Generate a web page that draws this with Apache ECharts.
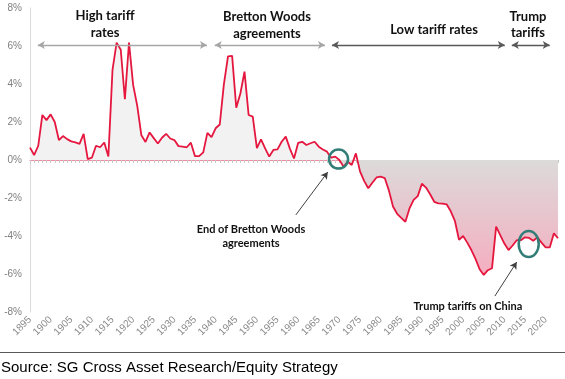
<!DOCTYPE html>
<html>
<head>
<meta charset="utf-8">
<script src="https://cdn.jsdelivr.net/npm/echarts@6/dist/echarts.min.js"></script>
<style>
  html, body { margin: 0; padding: 0; background: #fff; }
  #chart { width: 565px; height: 379px; }
</style>
</head>
<body>
<div id="chart"></div>
<script>
// ---- data ----
const startYear = 1895;
const endYear = 2023;
const values = [
  // 1895-1904
  0.65, 0.26, 0.75, 2.37, 2.1, 2.4, 2.0, 1.05, 1.26, 1.1,
  // 1905-1914
  0.98, 0.93, 0.85, 1.37, 0.05, 0.12, 0.75, 0.67, 0.92, 0.18,
  // 1915-1924
  4.74, 6.18, 5.8, 3.2, 6.18, 3.95, 2.85, 1.3, 0.95, 1.45,
  // 1925-1934
  1.15, 0.87, 1.17, 1.38, 1.13, 1.05, 0.73, 0.7, 0.67, 0.91,
  // 1935-1944
  0.2, 0.2, 0.4, 1.43, 1.2, 1.67, 1.87, 3.98, 5.45, 5.48,
  // 1945-1954
  2.75, 3.5, 4.65, 2.37, 2.28, 0.62, 1.09, 0.61, 0.18, 0.53,
  // 1955-1964
  0.56, 0.96, 1.23, 0.6, 0.08, 0.9, 0.96, 0.79, 0.88, 0.96,
  // 1965-1974
  0.7, 0.55, 0.44, 0.12, 0.18, 0.0, -0.35, -0.09, -0.26, 0.35,
  // 1975-1984
  -0.6, -1.1, -1.49, -1.2, -0.92, -0.88, -0.95, -1.6, -2.45, -2.83,
  // 1985-1994
  -3.05, -3.25, -2.55, -2.1, -1.9, -1.25, -1.45, -1.8, -2.2, -2.28,
  // 1995-2004
  -2.3, -2.33, -2.7, -3.2, -4.2, -4.0, -4.35, -4.74, -5.2, -5.75,
  // 2005-2014
  -6.05, -5.8, -5.7, -3.51, -3.95, -4.4, -4.74, -4.5, -4.22, -4.22,
  // 2015-2023
  -4.07, -4.1, -4.25, -4.07, -4.35, -4.6, -4.6, -3.86, -4.12
];
const yTicks = [-8, -6, -4, -2, 0, 2, 4, 6, 8];

// period arrows at the 6% level: [fromYear, toYear]
const periods = [
  [1896.9, 1937.9],
  [1939.8, 1966.5],
  [1968.2, 2010.1],
  [2011.8, 2021.0]
];
const periodLevel = 6.05;

// ---- build ----
const seriesData = values.map((v, i) => [startYear + i, v]);
const vMax = Math.max(...values), vMin = Math.min(...values);
const zeroStop = vMax / (vMax - vMin);

const chart = echarts.init(document.getElementById('chart'), null, { renderer: 'canvas' });

const periodColors = ['#a6a6a6', '#a6a6a6', '#595959', '#595959'];

const option = {
  animation: false,
  backgroundColor: '#ffffff',
  grid: { left: 30, right: 7, top: 8, bottom: 67, containLabel: false },
  xAxis: [
    {
      type: 'value', min: startYear, max: endYear, interval: 5,
      position: 'bottom',
      axisLine: { show: true, onZero: true, lineStyle: { color: '#f08ca2', width: 1.2 } },
      axisTick: { show: true, length: 3, lineStyle: { color: '#c8c8c8' } },
      minorTick: { show: true, splitNumber: 5, length: 3, lineStyle: { color: '#c8c8c8' } },
      axisLabel: { show: false },
      splitLine: { show: false }
    },
    {
      type: 'value', min: startYear, max: endYear, interval: 5,
      position: 'bottom',
      axisLine: { show: false, onZero: false },
      axisTick: { show: false },
      axisLabel: {
        show: true, rotate: 45, margin: 6, color: '#8a8a8a', fontSize: 10,
        fontFamily: 'Liberation Sans, Arial, sans-serif',
        showMaxLabel: false,
        formatter: v => String(v)
      },
      splitLine: { show: false }
    }
  ],
  yAxis: {
    type: 'value', min: yTicks[0], max: yTicks[yTicks.length - 1], interval: 2,
    axisLine: { show: true, lineStyle: { color: '#d9d9d9' } },
    axisTick: { show: false },
    splitLine: { show: false },
    axisLabel: {
      color: '#808080', fontSize: 10, margin: 8,
      fontFamily: 'Liberation Sans, Arial, sans-serif',
      formatter: v => v + '%'
    }
  },
  series: [
    {
      type: 'line',
      xAxisIndex: 0,
      data: seriesData,
      showSymbol: false,
      symbol: 'none',
      lineStyle: { color: '#e5173f', width: 1.8 },
      areaStyle: {
        color: {
          type: 'linear', x: 0, y: 0, x2: 0, y2: 1,
          colorStops: [
            { offset: 0, color: '#f2f2f2' },
            { offset: zeroStop, color: '#f2f2f2' },
            { offset: zeroStop, color: '#dcdada' },
            { offset: 1, color: '#f5aec0' }
          ]
        },
        opacity: 1
      },
      z: 3,
      markLine: {
        silent: true,
        symbol: ['arrow', 'arrow'],
        symbolSize: [6, 7],
        label: { show: false },
        data: periods.map((p, i) => [
          { coord: [p[0], periodLevel], lineStyle: { color: periodColors[i], width: 1.3, type: 'solid' } },
          { coord: [p[1], periodLevel] }
        ]).concat([
          [
            { coord: [1959.45, -2.89], symbol: 'none', lineStyle: { color: '#404040', width: 1, type: 'solid' } },
            { coord: [1967.2, -0.63], symbol: 'arrow' }
          ],
          [
            { coord: [2007.7, -7.16], symbol: 'none', lineStyle: { color: '#404040', width: 1, type: 'solid' } },
            { coord: [2013.0, -5.37], symbol: 'arrow' }
          ]
        ])
      }
    }
  ]
};
chart.setOption(option);

// annotations positioned from data coordinates
const px = (x, y) => chart.convertToPixel({ gridIndex: 0 }, [x, y]);
const c1 = px(1969.8, 0.05);
const c2 = px(2015.9, -4.42);

const boldFont = (s) => 'bold ' + s + 'px Lato, "Open Sans", sans-serif';
function label(x, y, text, size, lh) {
  return {
    type: 'text', x: x, y: y, z: 20,
    style: {
      text: text, font: boldFont(size), fill: '#111111',
      align: 'center', verticalAlign: 'middle', lineHeight: lh
    }
  };
}

chart.setOption({
  graphic: [
    label(105, 24, 'High tariff\nrates', 13, 17),
    label(267, 25, 'Bretton Woods\nagreements', 13, 17),
    label(434, 30, 'Low tariff rates', 13, 17),
    label(528, 25, 'Trump\ntariffs', 13, 16),
    label(251, 236, 'End of Bretton Woods\nagreements', 11, 14),
    label(468, 306, 'Trump tariffs on China', 11, 14),
    {
      type: 'ellipse', z: 15,
      shape: { cx: c1[0], cy: c1[1], rx: 9.5, ry: 9.5 },
      style: { fill: 'none', stroke: '#327d77', lineWidth: 2.5 }
    },
    {
      type: 'ellipse', z: 15,
      shape: { cx: c2[0], cy: c2[1], rx: 10, ry: 13 },
      style: { fill: 'none', stroke: '#327d77', lineWidth: 2.5 }
    },
    {
      type: 'line', z: 15,
      shape: { x1: 0, y1: 352.5, x2: 565, y2: 352.5 },
      style: { stroke: '#595959', lineWidth: 1.2 }
    },
    {
      type: 'text', x: 1, y: 368, z: 20,
      style: {
        text: 'Source: SG Cross Asset Research/Equity Strategy',
        font: '15px "Liberation Sans", Arial, sans-serif', fill: '#000000',
        align: 'left', verticalAlign: 'middle'
      }
    }
  ]
});
</script>
</body>
</html>
